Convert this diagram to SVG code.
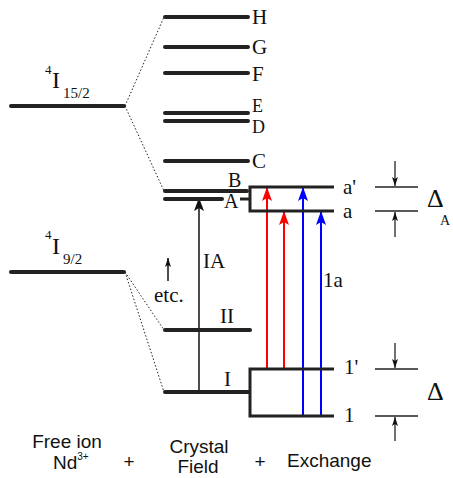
<svg xmlns="http://www.w3.org/2000/svg" width="453" height="478" viewBox="0 0 453 478">
<defs>
<style>
.lvl{stroke:#222;stroke-width:4;stroke-linecap:round;fill:none}
.brk{stroke:#222;stroke-width:3;fill:none}
.mk{stroke:#222;stroke-width:1.5;fill:none}
.dot{stroke:#222;stroke-width:1;stroke-dasharray:1.5 2;fill:none}
.ser{font-family:"Liberation Serif","Times New Roman",serif;fill:#111}
.san{font-family:"Liberation Sans",Arial,sans-serif;fill:#111;font-size:19px}
</style>
<marker id="ahK" markerUnits="userSpaceOnUse" markerWidth="10" markerHeight="14" refX="10" refY="5" orient="auto"><path d="M0,0 L12,4.5 L12,5.5 L0,10 L3,5 Z" fill="#111"/></marker>
<marker id="ahR" markerUnits="userSpaceOnUse" markerWidth="14" markerHeight="10" refX="13" refY="5" orient="auto"><path d="M0,0 L14,5 L0,10 L3,5 Z" fill="#f00"/></marker>
<marker id="ahB" markerUnits="userSpaceOnUse" markerWidth="14" markerHeight="10" refX="13" refY="5" orient="auto"><path d="M0,0 L14,5 L0,10 L3,5 Z" fill="#00f"/></marker>
<marker id="ahS" markerUnits="userSpaceOnUse" markerWidth="9" markerHeight="6" refX="9" refY="3" orient="auto"><path d="M0,0 L9,3 L0,6 L2,3 Z" fill="#111"/></marker>
</defs>
<rect width="453" height="478" fill="#fff"/>

<g id="connectors">
<line class="dot" x1="125" y1="106" x2="164" y2="17"/>
<line class="dot" x1="125" y1="106" x2="164" y2="191"/>
<line class="dot" x1="125" y1="272" x2="164" y2="330"/>
<line class="dot" x1="125" y1="272" x2="164" y2="392"/>
<line x1="199" y1="392" x2="199" y2="201" stroke="#111" stroke-width="1.5" marker-end="url(#ahK)"/>
<line x1="168" y1="281" x2="168" y2="258" stroke="#111" stroke-width="1.5" marker-end="url(#ahS)"/>
<line x1="267" y1="369" x2="267" y2="188" stroke="#f00" stroke-width="2" marker-end="url(#ahR)"/>
<line x1="284" y1="369" x2="284" y2="212" stroke="#f00" stroke-width="2" marker-end="url(#ahR)"/>
<line x1="303" y1="416" x2="303" y2="188" stroke="#00f" stroke-width="2" marker-end="url(#ahB)"/>
<line x1="321" y1="416" x2="321" y2="212" stroke="#00f" stroke-width="2" marker-end="url(#ahB)"/>
<line x1="395" y1="161" x2="395" y2="186" stroke="#111" stroke-width="1.2" marker-end="url(#ahS)"/>
<line x1="395" y1="237" x2="395" y2="212" stroke="#111" stroke-width="1.2" marker-end="url(#ahS)"/>
<line x1="395" y1="343" x2="395" y2="368" stroke="#111" stroke-width="1.2" marker-end="url(#ahS)"/>
<line x1="395" y1="441" x2="395" y2="417" stroke="#111" stroke-width="1.2" marker-end="url(#ahS)"/>
</g>

<g id="free-ion">
<line class="lvl" x1="11" y1="106" x2="124" y2="106"/>
<text class="ser" x="45" y="74" font-size="13">4</text>
<text class="ser" x="52" y="88" font-size="24">I</text>
<text class="ser" x="63" y="98" font-size="15">15/2</text>
<line class="lvl" x1="11" y1="272" x2="124" y2="272"/>
<text class="ser" x="45" y="239" font-size="13">4</text>
<text class="ser" x="52" y="254" font-size="24">I</text>
<text class="ser" x="63" y="264" font-size="15">9/2</text>
</g>

<g id="crystal-field">
<line class="lvl" x1="165" y1="17" x2="248" y2="17"/>
<line class="lvl" x1="165" y1="47" x2="248" y2="47"/>
<line class="lvl" x1="165" y1="73" x2="248" y2="73"/>
<line class="lvl" x1="165" y1="113" x2="248" y2="113"/>
<line class="lvl" x1="165" y1="121" x2="248" y2="121"/>
<line class="lvl" x1="165" y1="161" x2="248" y2="161"/>
<line class="lvl" x1="165" y1="191" x2="247" y2="191"/>
<line class="lvl" x1="165" y1="199" x2="222" y2="199"/>
<line class="lvl" x1="165" y1="330" x2="250" y2="330"/>
<line class="lvl" x1="165" y1="392" x2="249" y2="392"/>
<g class="ser" font-size="21">
<text x="252" y="24">H</text>
<text x="252" y="54">G</text>
<text x="252" y="81">F</text>
<text x="252" y="112" font-size="18">E</text>
<text x="252" y="133" font-size="18">D</text>
<text x="252" y="168">C</text>
<text x="228" y="187" font-size="20">B</text>
<text x="224" y="208" font-size="20">A</text>
<text x="203" y="268">IA</text>
<text x="154" y="302">etc.</text>
<text x="220" y="323">II</text>
<text x="224" y="386">I</text>
</g>
</g>

<g id="exchange">
<line class="brk" x1="240" y1="199" x2="250" y2="199"/>
<path class="brk" d="M334,187 H250 V211 H334"/>
<path class="brk" d="M334,369 H250 V416 H334"/>
<g class="ser" font-size="21">
<text x="343" y="194">a'</text>
<text x="343" y="218">a</text>
<text x="323" y="287">1a</text>
<text x="344" y="374">1'</text>
<text x="344" y="422">1</text>
<text x="427" y="207" font-size="26">Δ</text>
<text x="440" y="225" font-size="14">A</text>
<text x="427" y="400" font-size="26">Δ</text>
</g>
<line class="mk" x1="375" y1="187" x2="418" y2="187"/>
<line class="mk" x1="375" y1="211" x2="418" y2="211"/>
<line class="mk" x1="375" y1="369" x2="418" y2="369"/>
<line class="mk" x1="375" y1="416" x2="418" y2="416"/>
</g>

<g id="captions" class="san">
<text x="67" y="448" text-anchor="middle">Free ion</text>
<text x="53" y="469">Nd<tspan font-size="10" dy="-9">3+</tspan></text>
<text x="129" y="468" text-anchor="middle">+</text>
<text x="199" y="453" text-anchor="middle">Crystal</text>
<text x="198" y="473" text-anchor="middle">Field</text>
<text x="260" y="468" text-anchor="middle">+</text>
<text x="287" y="467">Exchange</text>
</g>
</svg>
